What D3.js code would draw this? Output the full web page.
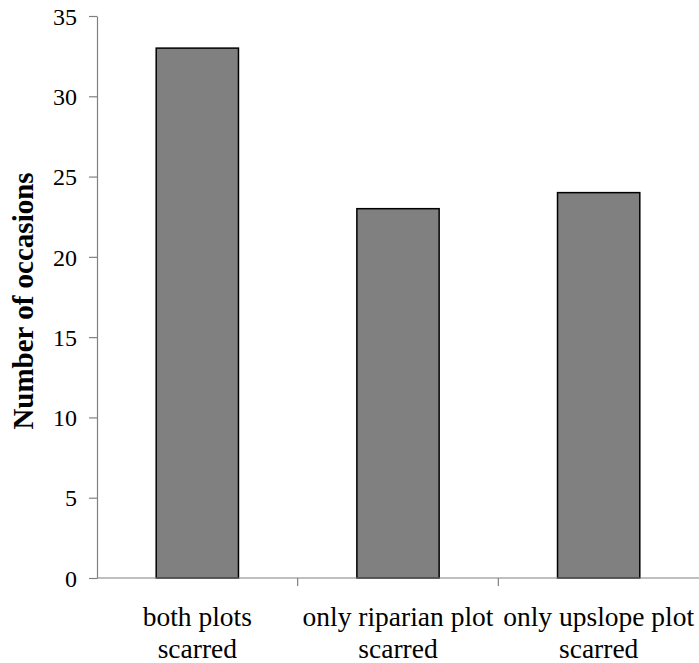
<!DOCTYPE html>
<head>
<meta charset="utf-8">
<title>Number of occasions</title>
<script src="https://d3js.org/d3.v7.min.js"></script>
<style>
  body { margin: 0; background: #fff; }
  text { font-family: "Liberation Serif", "Times New Roman", serif; }
</style>
</head>
<body>
<script>
// data
const categories = [["both plots", "scarred"], ["only riparian plot", "scarred"], ["only upslope plot", "scarred"]];
const counts = [33, 23, 24];
const yTicks = [0, 5, 10, 15, 20, 25, 30, 35];

const W = 699, H = 663;
const x0 = 97, x1 = 699, yTop = 16, yBot = 578;

const svg = d3.select("body").append("svg")
    .attr("width", W)
    .attr("height", H);

const x = d3.scaleBand()
    .domain(d3.range(categories.length))
    .range([x0, x1])
    .paddingInner(0.59)
    .paddingOuter(0.295);

const y = d3.scaleLinear().domain([0, 35]).range([yBot, yTop]);

// bars
svg.selectAll("rect.bar")
    .data(counts)
    .enter().append("rect")
    .attr("class", "bar")
    .attr("x", (d, i) => x(i))
    .attr("y", d => y(d))
    .attr("width", x.bandwidth())
    .attr("height", d => y(0) - y(d))
    .attr("fill", "#808080")
    .attr("stroke", "#000")
    .attr("stroke-width", 1.5);

// y axis
const yaxis = svg.append("g")
    .attr("transform", "translate(" + x0 + ",0)")
    .call(d3.axisLeft(y).tickValues(yTicks).tickSize(8).tickPadding(12).tickSizeOuter(0));
yaxis.select(".domain").attr("stroke", "#808080").attr("stroke-width", 1.2);
yaxis.selectAll(".tick line").attr("stroke", "#808080").attr("stroke-width", 1.2);
yaxis.selectAll(".tick text")
    .attr("font-size", 24)
    .attr("dy", "0.34em")
    .attr("fill", "#000");

// x axis
const xGrid = d3.range(categories.length + 1).map(i => x0 + i * x.step());
svg.append("line")
    .attr("x1", x0).attr("x2", x1)
    .attr("y1", yBot).attr("y2", yBot)
    .attr("stroke", "#808080").attr("stroke-width", 1.2);
svg.selectAll("line.xtick")
    .data(xGrid.slice(1, -1))
    .enter().append("line")
    .attr("class", "xtick")
    .attr("x1", d => d).attr("x2", d => d)
    .attr("y1", yBot).attr("y2", yBot + 8)
    .attr("stroke", "#808080").attr("stroke-width", 1.2);

const labels = svg.selectAll("text.xlab")
    .data(categories)
    .enter().append("text")
    .attr("class", "xlab")
    .attr("text-anchor", "middle")
    .attr("font-size", 27.5)
    .attr("transform", (d, i) => "translate(" + (x(i) + x.bandwidth() / 2) + ",626)");
labels.selectAll("tspan")
    .data(d => d)
    .enter().append("tspan")
    .attr("x", 0)
    .attr("y", (d, j) => j * 32)
    .text(d => d);

// y title
svg.append("text")
    .attr("transform", "translate(33,301) rotate(-90)")
    .attr("text-anchor", "middle")
    .attr("font-size", 29)
    .attr("font-weight", "bold")
    .text("Number of occasions");
</script>
</body>
